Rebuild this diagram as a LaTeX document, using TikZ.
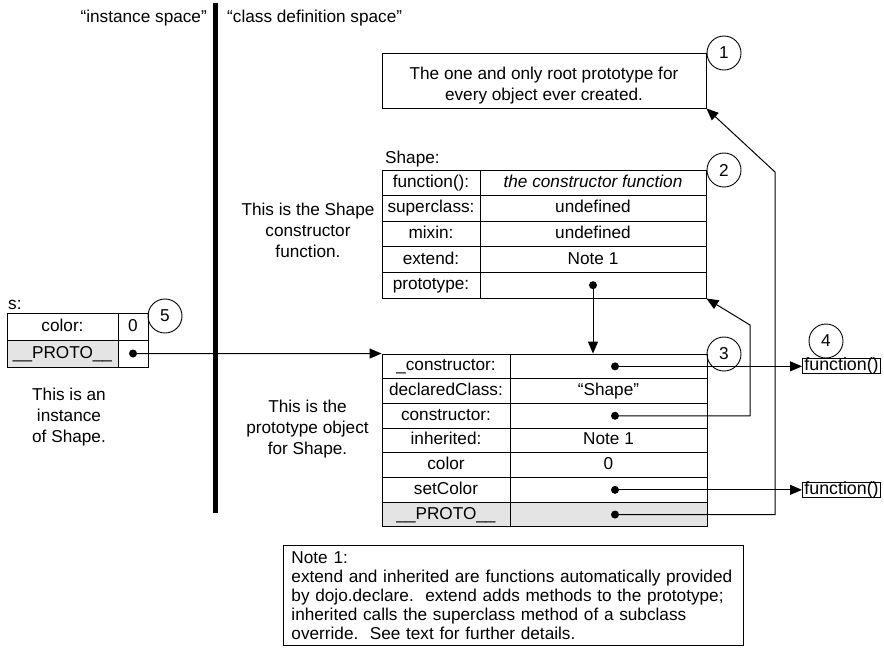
\documentclass[tikz,border=0pt]{standalone}
\usepackage{fontspec}
\setmainfont{Liberation Sans}
\usetikzlibrary{arrows.meta}
\definecolor{protogray}{RGB}{228,228,228}
\tikzset{
  every node/.style={font=\fontsize{17.2}{21}\selectfont},
  cell/.style={draw, line width=0.9pt, inner sep=0pt, text height=12.5pt, text depth=3.5pt},
  circ/.style={draw, circle, line width=0.9pt, minimum size=34pt, inner sep=0pt},
  dot/.style={circle, fill=black, minimum size=8pt, inner sep=0pt},
  arr/.style={line width=1pt, -{Triangle[length=12pt,width=10pt]}},
  lbl/.style={align=center, inner sep=0pt},
  fbox/.style={draw, line width=0.9pt, anchor=west, inner xsep=2pt, inner ysep=0pt, text height=12pt, text depth=3pt, font=\fontsize{17.8}{21}\selectfont},
}
\begin{document}
\begin{tikzpicture}[x=1pt,y=-1pt]
\useasboundingbox (0,0) rectangle (884,649);

% separator bar and headings
\coordinate (bartop) at (215,3);
\coordinate (barbot) at (215,513);
\draw[line width=5pt] (bartop) -- (barbot);
\node[anchor=base east, inner sep=0pt] (hinst) at (207,22) {“instance space”};
\node[anchor=base west, inner sep=0pt] (hclass) at (227,22) {“class definition space”};

% root prototype
\node[draw, line width=0.9pt, minimum width=324pt, minimum height=55pt, inner sep=0pt] (root) at (544,80.5) {};
\node[lbl] (roottxt) at (544,85.5) {The one and only root prototype for\\every object ever created.};
\node[circ] (c1) at (724,53) {1};

% Shape constructor table
\node[anchor=base west, inner sep=0pt] (shapelbl) at (385,163) {Shape:};
\node[cell, minimum width=98pt, minimum height=25.6pt] (sl1) at (431,182.8) {function():};
\node[cell, minimum width=226pt, minimum height=25.6pt] (sv1) at (593,182.8) {\itshape the constructor function};
\node[cell, minimum width=98pt, minimum height=25.6pt] (sl2) at (431,208.4) {superclass:};
\node[cell, minimum width=226pt, minimum height=25.6pt] (sv2) at (593,208.4) {undefined};
\node[cell, minimum width=98pt, minimum height=25.6pt] (sl3) at (431,234.0) {mixin:};
\node[cell, minimum width=226pt, minimum height=25.6pt] (sv3) at (593,234.0) {undefined};
\node[cell, minimum width=98pt, minimum height=25.6pt] (sl4) at (431,259.6) {extend:};
\node[cell, minimum width=226pt, minimum height=25.6pt] (sv4) at (593,259.6) {Note 1};
\node[cell, minimum width=98pt, minimum height=25.6pt] (sl5) at (431,285.2) {prototype:};
\node[cell, minimum width=226pt, minimum height=25.6pt] (sv5) at (593,285.2) {};
\node[dot] (sdot) at (593,285.2) {};
\node[circ] (c2) at (724,170) {2};
\node[lbl] (ctorlbl) at (308,230) {This is the Shape\\constructor\\function.};

% prototype object table
\node[cell, minimum width=128pt, minimum height=24.7pt] (pl1) at (446,366.35) {\_constructor:};
\node[cell, minimum width=197pt, minimum height=24.7pt] (pv1) at (608.5,366.35) {};
\node[cell, minimum width=128pt, minimum height=24.7pt] (pl2) at (446,391.05) {declaredClass:};
\node[cell, minimum width=197pt, minimum height=24.7pt] (pv2) at (608.5,391.05) {“Shape”};
\node[cell, minimum width=128pt, minimum height=24.7pt] (pl3) at (446,415.75) {constructor:};
\node[cell, minimum width=197pt, minimum height=24.7pt] (pv3) at (608.5,415.75) {};
\node[cell, minimum width=128pt, minimum height=24.7pt] (pl4) at (446,440.45) {inherited:};
\node[cell, minimum width=197pt, minimum height=24.7pt] (pv4) at (608.5,440.45) {Note 1};
\node[cell, minimum width=128pt, minimum height=24.7pt] (pl5) at (446,465.15) {color};
\node[cell, minimum width=197pt, minimum height=24.7pt] (pv5) at (608.5,465.15) {0};
\node[cell, minimum width=128pt, minimum height=24.7pt] (pl6) at (446,489.85) {setColor};
\node[cell, minimum width=197pt, minimum height=24.7pt] (pv6) at (608.5,489.85) {};
\node[cell, fill=protogray, minimum width=128pt, minimum height=24.7pt] (pl7) at (446,514.55) {\_\_PROTO\_\_};
\node[cell, fill=protogray, minimum width=197pt, minimum height=24.7pt] (pv7) at (608.5,514.55) {};
\node[dot] (pd1) at (615,366.35) {};
\node[dot] (pd3) at (615,415.75) {};
\node[dot] (pd6) at (615,489.85) {};
\node[dot] (pd7) at (615,514.55) {};
\node[circ] (c3) at (724,354) {3};
\node[lbl] (protolbl) at (307.5,429) {This is the\\prototype object\\for Shape.};

% function boxes
\node[fbox] (f1) at (802,366.35) {function()};
\node[fbox] (f2) at (802,489.85) {function()};
\node[circ] (c4) at (826,341) {4};

% instance s
\node[anchor=base west, inner sep=0pt] (slbl) at (8,309) {s:};
\node[cell, minimum width=111pt, minimum height=27pt] (il1) at (62.5,326.5) {color:};
\node[cell, minimum width=30pt, minimum height=27pt] (iv1) at (133,326.5) {0};
\node[cell, fill=protogray, minimum width=111pt, minimum height=27pt] (il2) at (62.5,353.5) {\_\_PROTO\_\_};
\node[cell, minimum width=30pt, minimum height=27pt] (iv2) at (133,353.5) {};
\node[dot] (idot) at (133,353.5) {};
\node[circ] (c5) at (165,316) {5};
\node[lbl] (instlbl) at (69,417) {This is an\\instance\\of Shape.};

% note
\node[draw, line width=0.9pt, anchor=north west, minimum width=460pt, minimum height=100pt,
      inner xsep=8pt, inner ysep=0pt, text width=444pt, align=left,
      font=\fontsize{17.2}{19}\selectfont] (note) at (283,545)
  {Note 1:\\extend and inherited are functions automatically provided\\by dojo.declare.\ \ extend adds methods to the prototype;\\inherited calls the superclass method of a subclass\\override.\ \ See text for further details.};

% connectors
\coordinate (ctorbend1) at (750,415.75);
\coordinate (ctorbend2) at (750,325);
\coordinate (protobend1) at (775,514.55);
\coordinate (protobend2) at (775,172);
\draw[arr] (idot.center) -- (pl1.north west);
\draw[arr] (sdot.center) -- (sdot.center |- pl1.north);
\draw[arr] (pd1.center) -- (f1.west);
\draw[arr] (pd6.center) -- (f2.west);
\draw[arr] (pd3.center) -- (ctorbend1) -- (ctorbend2) -- (sv5.south east);
\draw[arr] (pd7.center) -- (protobend1) -- (protobend2) -- (root.south east);
\end{tikzpicture}
\end{document}
